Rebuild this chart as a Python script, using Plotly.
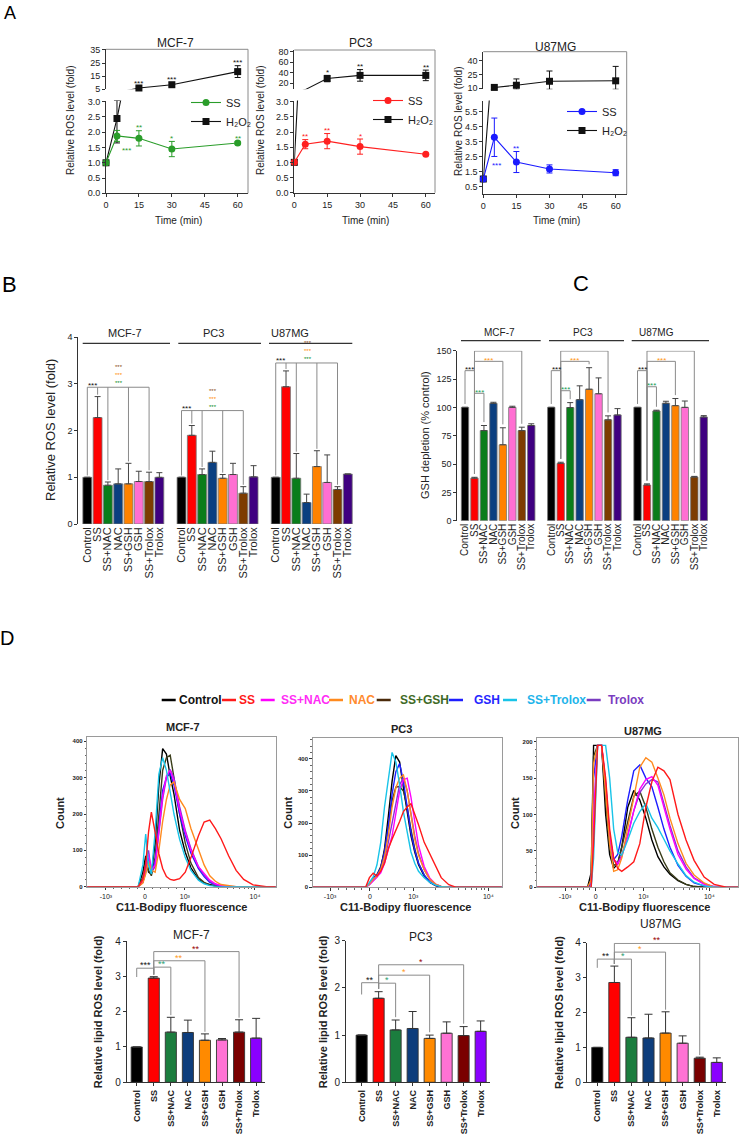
import math
import plotly.graph_objects as go

# ============================ DATA ============================
TREATMENTS = ["Control", "SS", "SS+NAC", "NAC", "SS+GSH", "GSH", "SS+Trolox", "Trolox"]
CELL_LINES = ["MCF-7", "PC3", "U87MG"]

# ---- Panel A: ROS level time course (fold) ----
A_TIME = [0, 5, 15, 30, 60]
A_MCF7_SS = [1.0, 1.88, 1.80, 1.45, 1.65]
A_MCF7_SS_ERR = [0, 0.18, 0.25, 0.25, 0.05]
A_MCF7_H2O2 = [1.0, 2.45, 6.0, 8.5, 18.5]
A_MCF7_H2O2_ERR = [0, 0.8, 1.0, 1.5, 4.5]
A_PC3_SS = [1.0, 1.60, 1.70, 1.52, 1.27]
A_PC3_SS_ERR = [0, 0.15, 0.25, 0.25, 0.03]
A_PC3_H2O2 = [1.0, 8.0, 29.0, 35.0, 35.0]
A_PC3_H2O2_ERR = [0, 0, 6.0, 11.0, 10.0]
A_U87_SS = [1.0, 3.78, 2.13, 1.67, 1.42]
A_U87_SS_ERR = [0, 1.28, 0.70, 0.27, 0.20]
A_U87_H2O2 = [1.0, 10.7, 13.1, 17.5, 18.0]
A_U87_H2O2_ERR = [0, 0, 7.0, 11.4, 16.0]
A_MCF7_SIG_SS = ["", "***", "**", "*", "**"]
A_MCF7_SIG_H2O2 = ["", "", "***", "***", "***"]
A_PC3_SIG_SS = ["", "**", "**", "*", ""]
A_PC3_SIG_H2O2 = ["", "", "*", "**", "**"]
A_U87_SIG_SS = ["", "***", "**", "", ""]
A_U87_SIG_H2O2 = ["", "", "", "", ""]

# ---- Panel B: relative ROS level (fold) ----
B_MCF7 = [1.0, 2.28, 0.83, 0.86, 0.86, 0.91, 0.91, 1.0]
B_MCF7_ERR = [0, 0.45, 0.07, 0.32, 0.44, 0.22, 0.20, 0.10]
B_PC3 = [1.0, 1.90, 1.06, 1.32, 0.98, 1.06, 0.66, 1.01]
B_PC3_ERR = [0, 0.21, 0.12, 0.24, 0.08, 0.24, 0.14, 0.24]
B_U87 = [1.0, 2.94, 0.98, 0.46, 1.23, 0.89, 0.74, 1.07]
B_U87_ERR = [0, 0.34, 0.53, 0.18, 0.34, 0.59, 0.06, 0.0]
B_SIG = ["***", "***", "***"]

# ---- Panel C: GSH depletion (% control) ----
C_MCF7 = [100, 37.5, 79.5, 103.5, 67.0, 100.0, 79.5, 84.0]
C_MCF7_ERR = [0, 0.8, 4.5, 1.0, 15.0, 1.0, 3.0, 1.5]
C_PC3 = [100, 50.6, 99.8, 106.8, 116.0, 112.0, 89.0, 93.3]
C_PC3_ERR = [0, 1.0, 4.4, 12.2, 19.0, 14.0, 3.5, 5.6]
C_U87 = [100, 31.5, 96.8, 103.6, 101.5, 100.0, 38.5, 91.5]
C_U87_ERR = [0, 1.0, 0.7, 1.8, 6.3, 5.6, 0.6, 1.2]
C_SIG = ["***", "***", "***"]

# ---- Panel D: flow histograms (display channel 0-1000 vs count) ----
HIST_X_MCF7 = [0, 270, 295, 310, 325, 340, 360, 380, 400, 420, 440, 460, 490, 520, 550, 590,
               620, 650, 680, 710, 750, 790, 830, 880, 950, 1000]
HIST_MCF7 = {
    "Control":   [0, 0, 40, 85, 40, 35, 120, 280, 380, 365, 305, 255, 155, 95, 52, 20, 10, 5, 2, 1, 0, 0, 0, 0, 0, 0],
    "SS":        [0, 0, 20, 60, 150, 205, 150, 90, 50, 28, 20, 18, 22, 40, 80, 140, 178, 183, 160, 132, 85, 45, 20, 5, 0, 0],
    "SS+NAC":    [0, 0, 15, 60, 90, 45, 60, 150, 250, 305, 320, 290, 210, 150, 100, 55, 35, 18, 8, 3, 0, 0, 0, 0, 0, 0],
    "NAC":       [0, 0, 10, 35, 70, 45, 40, 100, 180, 240, 280, 288, 240, 215, 160, 100, 60, 30, 15, 6, 2, 0, 0, 0, 0, 0],
    "SS+GSH":    [0, 0, 25, 70, 45, 30, 80, 200, 320, 355, 362, 300, 200, 120, 65, 25, 12, 5, 2, 0, 0, 0, 0, 0, 0, 0],
    "GSH":       [0, 0, 12, 40, 80, 40, 70, 170, 265, 300, 312, 280, 200, 140, 92, 50, 28, 12, 5, 1, 0, 0, 0, 0, 0, 0],
    "SS+Trolox": [0, 0, 60, 145, 60, 35, 150, 310, 355, 320, 260, 200, 130, 80, 45, 18, 8, 3, 1, 0, 0, 0, 0, 0, 0, 0],
    "Trolox":    [0, 0, 12, 50, 100, 40, 55, 140, 240, 300, 322, 300, 220, 155, 105, 55, 32, 15, 6, 2, 0, 0, 0, 0, 0, 0],
}
HIST_X_PC3 = [0, 280, 300, 320, 340, 360, 380, 400, 420, 440, 460, 480, 500, 520, 540, 560, 590,
              620, 650, 680, 720, 760, 1000]
HIST_PC3 = {
    "Control":   [0, 0, 12, 25, 35, 60, 120, 220, 330, 410, 390, 310, 230, 160, 110, 70, 35, 15, 5, 1, 0, 0, 0],
    "SS":        [0, 0, 30, 44, 35, 50, 75, 120, 150, 175, 205, 236, 250, 260, 230, 195, 140, 105, 65, 30, 8, 0, 0],
    "SS+NAC":    [0, 0, 8, 20, 30, 45, 75, 120, 160, 230, 300, 335, 340, 280, 200, 130, 65, 28, 10, 3, 0, 0, 0],
    "NAC":       [0, 0, 10, 25, 35, 55, 95, 160, 250, 310, 340, 350, 300, 220, 150, 100, 55, 25, 10, 3, 0, 0, 0],
    "SS+GSH":    [0, 0, 10, 30, 40, 65, 110, 190, 270, 312, 314, 300, 250, 180, 120, 75, 38, 16, 6, 2, 0, 0, 0],
    "GSH":       [0, 0, 10, 28, 38, 60, 110, 190, 290, 360, 385, 330, 250, 170, 115, 75, 38, 16, 6, 2, 0, 0, 0],
    "SS+Trolox": [0, 0, 15, 32, 70, 140, 250, 340, 420, 390, 320, 235, 170, 110, 75, 50, 30, 15, 7, 2, 0, 0, 0],
    "Trolox":    [0, 0, 9, 22, 32, 50, 85, 140, 200, 260, 320, 340, 300, 230, 160, 105, 55, 24, 9, 2, 0, 0, 0],
}
HIST_X_U87 = [0, 250, 268, 280, 300, 320, 340, 360, 380, 400, 420, 450, 480, 510, 540, 570, 600,
              630, 660, 700, 740, 780, 830, 880, 940, 1000]
HIST_U87 = {
    "Control":   [0, 0, 20, 195, 195, 195, 100, 45, 26, 32, 55, 110, 133, 120, 95, 65, 42, 28, 18, 9, 4, 1, 0, 0, 0, 0],
    "SS":        [0, 0, 0, 60, 195, 195, 150, 80, 40, 26, 22, 28, 35, 60, 110, 145, 165, 160, 148, 100, 65, 37, 14, 4, 0, 0],
    "SS+NAC":    [0, 0, 0, 100, 195, 195, 140, 70, 38, 32, 42, 70, 105, 135, 148, 152, 140, 110, 80, 45, 25, 12, 4, 1, 0, 0],
    "NAC":       [0, 0, 10, 170, 195, 195, 130, 60, 22, 24, 40, 80, 125, 165, 178, 172, 150, 127, 95, 60, 33, 17, 6, 0, 0, 0],
    "SS+GSH":    [0, 0, 10, 180, 195, 195, 120, 55, 30, 33, 55, 92, 125, 132, 110, 80, 55, 35, 20, 10, 4, 1, 0, 0, 0, 0],
    "GSH":       [0, 0, 5, 150, 195, 195, 140, 70, 38, 45, 70, 120, 160, 168, 150, 138, 110, 80, 55, 30, 15, 6, 2, 0, 0, 0],
    "SS+Trolox": [0, 0, 0, 40, 195, 195, 195, 150, 80, 48, 44, 65, 88, 104, 115, 95, 82, 66, 50, 32, 16, 7, 2, 0, 0, 0],
    "Trolox":    [0, 0, 0, 90, 195, 195, 145, 72, 38, 33, 44, 72, 105, 130, 142, 148, 145, 115, 85, 50, 28, 13, 5, 1, 0, 0],
}
HIST_TICKTEXT = ["-10³", "0", "10³", "10⁴"]

# ---- Panel D: relative lipid ROS level (fold) ----
D_MCF7 = [1.0, 2.95, 1.42, 1.41, 1.19, 1.20, 1.42, 1.25]
D_MCF7_ERR = [0, 0.04, 0.42, 0.35, 0.18, 0.04, 0.35, 0.56]
D_PC3 = [1.0, 1.78, 1.11, 1.14, 0.93, 1.04, 0.99, 1.08]
D_PC3_ERR = [0, 0.14, 0.21, 0.36, 0.07, 0.24, 0.19, 0.22]
D_U87 = [1.0, 2.86, 1.29, 1.27, 1.41, 1.12, 0.69, 0.57]
D_U87_ERR = [0, 0.47, 0.56, 0.68, 0.61, 0.21, 0.03, 0.13]
D_SIG_MCF7 = ["***", "**", "**", "**"]
D_SIG_PC3 = ["**", "*", "*", "*"]
D_SIG_U87 = ["**", "*", "*", "**"]

# ============================ STYLE ============================
BC_COLORS = ["#000000", "#ff0000", "#0a7d1a", "#0b3f80", "#ff8200", "#ff6fd2", "#7d3c00", "#3f0080"]
D_COLORS = ["#000000", "#ff0000", "#1b7d3e", "#0d3d7c", "#ff8a00", "#ff72d4", "#7a0000", "#8a00ff"]
HIST_COLORS = {"Control": "#000000", "SS": "#ff1a1a", "SS+NAC": "#ff00ff", "NAC": "#ff8a1e",
               "SS+GSH": "#3a3d1a", "GSH": "#1e1eff", "SS+Trolox": "#18c4e8", "Trolox": "#8b2fd6"}
LEGEND_TEXT_COLORS = {"Control": "#111111", "SS": "#ff1a1a", "SS+NAC": "#ff2df5", "NAC": "#ff8a2e",
                      "SS+GSH": "#3e6a26", "GSH": "#2626ff", "SS+Trolox": "#1eb4ea", "Trolox": "#7a3cc0"}
LEGEND_LINE_COLORS = {"Control": "#000000", "SS": "#ff1a1a", "SS+NAC": "#ff00ff", "NAC": "#ff8a1e",
                      "SS+GSH": "#4a2a0a", "GSH": "#1e1eff", "SS+Trolox": "#18c4e8", "Trolox": "#7a3cc0"}
HIST_ORDER = ["Control", "SS+GSH", "GSH", "Trolox", "SS+NAC", "NAC", "SS+Trolox", "SS"]

W, H = 742, 1134
FONT = "Arial, Liberation Sans, sans-serif"
fig = go.Figure()
LAYOUT = {}
ANN = []
SHP = []


def PX(v):
    return v / W


def PY(v):
    return 1 - v / H


def ax_key(kind, n):
    return f"{kind}axis" + ("" if n == 1 else str(n))


def ax_ref(kind, n):
    return kind + ("" if n == 1 else str(n))


def tf(size, bold=False, color="#222222"):
    return dict(family=FONT, size=size, color=color, weight=("bold" if bold else "normal"))


BASE_AXIS = dict(showgrid=False, zeroline=False, showline=True, linecolor="#333333", linewidth=1,
                 ticks="outside", ticklen=3, tickwidth=1, tickcolor="#333333",
                 tickfont=tf(9), fixedrange=True)


def axis(kind, n, **kw):
    d = dict(BASE_AXIS)
    d.update(kw)
    LAYOUT[ax_key(kind, n)] = d


def text(x, y, s, size=10, color="#222222", angle=0, xanchor="center", yanchor="middle",
         xref="paper", yref="paper", xshift=0, yshift=0, bold=False):
    ANN.append(dict(x=x, y=y, text=s, showarrow=False, textangle=angle, xanchor=xanchor,
                    yanchor=yanchor, xref=xref, yref=yref, xshift=xshift, yshift=yshift,
                    font=tf(size, bold, color)))


def ptext(xp, yp, s, **kw):
    text(PX(xp), PY(yp), s, **kw)


def line(x0, y0, x1, y1, color="#888888", width=1, xref="paper", yref="paper"):
    SHP.append(dict(type="line", x0=x0, y0=y0, x1=x1, y1=y1, xref=xref, yref=yref,
                    line=dict(color=color, width=width)))


def pline(x0, y0, x1, y1, **kw):
    line(PX(x0), PY(y0), PX(x1), PY(y1), **kw)


def star(x, y, s, color, xref, yref, yshift=0, size=8, xshift=0):
    # asterisks sit high in the text box; shift down so the glyph centre lands on y
    text(x, y, s, size=size, color=color, xref=xref, yref=yref, yshift=yshift - 2, xshift=xshift)


# panel letters
ptext(9.5, 13.5, "A", size=18, color="#000000")
ptext(9.5, 284, "B", size=22, color="#000000")
ptext(580.5, 283.5, "C", size=22, color="#000000")
ptext(7.5, 638, "D", size=20, color="#000000")

# ============================ PANEL A ============================
A_SERIES = [
    (A_MCF7_SS, A_MCF7_SS_ERR, A_MCF7_H2O2, A_MCF7_H2O2_ERR, A_MCF7_SIG_SS, A_MCF7_SIG_H2O2),
    (A_PC3_SS, A_PC3_SS_ERR, A_PC3_H2O2, A_PC3_H2O2_ERR, A_PC3_SIG_SS, A_PC3_SIG_H2O2),
    (A_U87_SS, A_U87_SS_ERR, A_U87_H2O2, A_U87_H2O2_ERR, A_U87_SIG_SS, A_U87_SIG_H2O2),
]
A_STYLE = [
    dict(xpx=(106, 248), xr=[0, 64.7], top=(49.3, 89.3), top_r=[5, 35.5], top_t=[5, 15, 25, 35],
         bot=(100.5, 193.3), bot_r=[0, 3.04], bot_t=[0, 0.5, 1.0, 1.5, 2.0, 2.5, 3.0],
         color="#2a9d2a", title=(175, 43), ylab_x=71, time_x=178, legend=(186, 88),
         below=[1], below_xshift=10),
    dict(xpx=(294.3, 435), xr=[0, 64.2], top=(50, 89.3), top_r=[8.6, 83.2], top_t=[20, 40, 60, 80],
         bot=(100.5, 192.7), bot_r=[0, 3.04], bot_t=[0, 0.5, 1.0, 1.5, 2.0, 2.5, 3.0],
         color="#ff2020", title=(360.7, 43.3), ylab_x=261, time_x=365, legend=(368, 86),
         below=[], below_xshift=0),
    dict(xpx=(483.3, 626.7), xr=[0, 65], top=(51.7, 89.3), top_r=[8.6, 50.3], top_t=[10, 25, 40],
         bot=(100.5, 194), bot_r=[0, 6.23], bot_t=[0.5, 1.5, 2.5, 3.5, 4.5, 5.5],
         color="#1a1aff", title=(555, 46.7), ylab_x=459, time_x=556, legend=(562, 97),
         below=[1], below_xshift=2),
]
LEG_NAMES = ["legend", "legend2", "legend3"]

for i, (st, (ss, sse, hh, hhe, sig_ss, sig_h)) in enumerate(zip(A_STYLE, A_SERIES)):
    xn, yt, yb = i + 1, 2 * i + 1, 2 * i + 2
    xr_, ytr, ybr = ax_ref("x", xn), ax_ref("y", yt), ax_ref("y", yb)
    axis("x", xn, domain=[PX(st["xpx"][0]), PX(st["xpx"][1])], range=st["xr"], anchor=ybr,
         tickvals=[0, 15, 30, 45, 60])
    axis("y", yt, domain=[PY(st["top"][1]), PY(st["top"][0])], range=st["top_r"], anchor=xr_,
         tickvals=st["top_t"])
    axis("y", yb, domain=[PY(st["bot"][1]), PY(st["bot"][0])], range=st["bot_r"], anchor=xr_,
         tickvals=st["bot_t"], tickformat=".1f")
    # frame (top + right)
    pline(st["xpx"][0], st["top"][0], st["xpx"][1], st["top"][0], color="#8a8a8a")
    pline(st["xpx"][1], st["top"][0], st["xpx"][1], st["bot"][1], color="#8a8a8a")

    series = [(hh, hhe, "#111111", "square", "H₂O₂", sig_h),
              (ss, sse, st["color"], "circle", "SS", sig_ss)]
    for yn_ref, rng in [(ytr, st["top_r"]), (ybr, st["bot_r"])]:
        lo, hi = rng
        for vals, errs, col, sym, nm, sig in series:
            fig.add_trace(go.Scatter(x=A_TIME, y=vals, mode="lines", xaxis=xr_, yaxis=yn_ref,
                                     line=dict(color=col, width=1.1), showlegend=False,
                                     hoverinfo="skip"))
            inr = [lo <= v <= hi for v in vals]
            yv = [v if ok else None for v, ok in zip(vals, inr)]
            ep = [(min(v + e, hi) - v) if ok else 0 for v, e, ok in zip(vals, errs, inr)]
            em = [(v - max(v - e, lo)) if ok else 0 for v, e, ok in zip(vals, errs, inr)]
            fig.add_trace(go.Scatter(x=A_TIME, y=yv, mode="markers", xaxis=xr_, yaxis=yn_ref,
                                     cliponaxis=False, showlegend=False, hoverinfo="skip",
                                     marker=dict(color=col, size=7, symbol=sym),
                                     error_y=dict(type="data", symmetric=False, array=ep,
                                                  arrayminus=em, color=col, thickness=1, width=3)))
            for j, s in enumerate(sig):
                if not s or not inr[j]:
                    continue
                if nm == "SS" and j in st["below"]:
                    star(A_TIME[j], max(vals[j] - errs[j], lo), s, col, xr_, yn_ref, yshift=-7,
                         xshift=st["below_xshift"])
                else:
                    star(A_TIME[j], min(vals[j] + errs[j], hi), s, col, xr_, yn_ref, yshift=5)
    # legend entries
    for vals, errs, col, sym, nm, sig in reversed(series):
        fig.add_trace(go.Scatter(x=[None], y=[None], mode="lines+markers", name=nm,
                                 xaxis=xr_, yaxis=ybr, legend=LEG_NAMES[i],
                                 line=dict(color=col, width=1.1),
                                 marker=dict(color=col, size=7, symbol=sym)))
    LAYOUT[LEG_NAMES[i]] = dict(x=PX(st["legend"][0]), y=PY(st["legend"][1]), xanchor="left",
                                yanchor="top", bgcolor="rgba(0,0,0,0)", borderwidth=0,
                                font=tf(11), itemwidth=30)
    ptext(st["title"][0], st["title"][1], CELL_LINES[i], size=12)
    ptext(st["ylab_x"], 121, "Relative ROS level (fold)", size=10, angle=-90)
    ptext(st["time_x"], 221, "Time (min)", size=10)

# ============================ PANEL B ============================
B_STEP = 9.15
B_X, B_Y = 4, 7
bx, by = ax_ref("x", B_X), ax_ref("y", B_Y)
B_DATA = [(B_MCF7, B_MCF7_ERR), (B_PC3, B_PC3_ERR), (B_U87, B_U87_ERR)]
B_POS = [[g * B_STEP + i for i in range(8)] for g in range(3)]
for g, (vals, errs) in enumerate(B_DATA):
    fig.add_trace(go.Bar(x=B_POS[g], y=vals, width=0.86, xaxis=bx, yaxis=by, showlegend=False,
                         marker=dict(color=BC_COLORS, line=dict(color="#777777", width=0.8)),
                         error_y=dict(type="data", symmetric=False, array=errs,
                                      arrayminus=[0] * 8, color="#444444", thickness=1, width=3),
                         hoverinfo="skip"))
axis("x", B_X, domain=[PX(78.3), PX(355)], range=[-0.874, 26.0], anchor=by,
     tickvals=[p for row in B_POS for p in row], ticktext=TREATMENTS * 3, tickangle=-90,
     tickfont=tf(11), showline=False, ticks="")
axis("y", B_Y, domain=[PY(524), PY(337.3)], range=[0, 4], anchor=bx, tickvals=[0, 1, 2, 3, 4],
     tickfont=tf(9))
ptext(50, 430, "Relative ROS level (fold)", size=13, angle=-90)
B_HEAD = [(82.7, 170, 124.7), (178.3, 261, 213), (269, 352.3, 290)]
for g, (x0, x1, xc) in enumerate(B_HEAD):
    pline(x0, 343.3, x1, 343.3, color="#333333", width=1.2)
    ptext(xc, 333.3, CELL_LINES[g], size=11)
B_BR_H = [2.93, 2.43, 3.45]
B_STACK = ("<span style='color:#8a4a10'>***</span><br>"
           "<span style='color:#ff8a00'>***</span><br>"
           "<span style='color:#0a8a1a'>***</span>")
for g, (vals, errs) in enumerate(B_DATA):
    P = B_POS[g]
    h = B_BR_H[g]
    top = [v + e + 0.04 for v, e in zip(vals, errs)]
    kw = dict(xref=bx, yref=by, color="#8a8a8a")
    line(P[0], top[0], P[0], h, **kw)
    line(P[0], h, P[6], h, **kw)
    line(P[1], top[1], P[1], h, **kw)
    for k in (2, 4, 6):
        line(P[k], top[k], P[k], h, **kw)
    star((P[0] + P[1]) / 2, h + 0.09, B_SIG[g], "#111111", bx, by)
    text(P[1] + 2.1, h, B_STACK, size=6, xref=bx, yref=by, yanchor="bottom", yshift=-1)

# ============================ PANEL C ============================
C_STEP = 9.115
C_X, C_Y = 5, 8
cx, cy = ax_ref("x", C_X), ax_ref("y", C_Y)
C_DATA = [(C_MCF7, C_MCF7_ERR), (C_PC3, C_PC3_ERR), (C_U87, C_U87_ERR)]
C_POS = [[g * C_STEP + i for i in range(8)] for g in range(3)]
for g, (vals, errs) in enumerate(C_DATA):
    fig.add_trace(go.Bar(x=C_POS[g], y=vals, width=0.78, xaxis=cx, yaxis=cy, showlegend=False,
                         marker=dict(color=BC_COLORS, line=dict(color="#777777", width=0.8)),
                         error_y=dict(type="data", symmetric=False, array=errs,
                                      arrayminus=[0] * 8, color="#444444", thickness=1, width=3),
                         hoverinfo="skip"))
axis("x", C_X, domain=[PX(457.3), PX(712)], range=[-0.815, 26.1], anchor=cy,
     tickvals=[p for row in C_POS for p in row], ticktext=TREATMENTS * 3, tickangle=-90,
     tickfont=tf(10), showline=False, ticks="")
axis("y", C_Y, domain=[PY(520.7), PY(350.7)], range=[0, 150], anchor=cx,
     tickvals=[0, 25, 50, 75, 100, 125, 150], tickfont=tf(9))
ptext(425, 435, "GSH depletion (% control)", size=11, angle=-90)
C_HEAD = [(461, 540.7, 499), (549, 624, 583), (631.7, 709, 656.5)]
for g, (x0, x1, xc) in enumerate(C_HEAD):
    pline(x0, 340.7, x1, 340.7, color="#333333", width=1.2)
    ptext(xc, 332.7, CELL_LINES[g], size=10)
C_GREEN_H = [112.4, 114.7, 118.2]
for g, (vals, errs) in enumerate(C_DATA):
    P = C_POS[g]
    top = [v + e + 3 for v, e in zip(vals, errs)]
    brs = [(0, 1, 132.4, C_SIG[g], "#111111"), (1, 2, C_GREEN_H[g], "***", "#21a05a"),
           (1, 4, 140.6, "***", "#ff9a1a"), (1, 6, 149.7, "***", "#a00000")]
    for a, b, h, s, col in brs:
        kw = dict(xref=cx, yref=cy, color="#8a8a8a")
        line(P[a], top[a], P[a], h, **kw)
        line(P[a], h, P[b], h, **kw)
        line(P[b], top[b], P[b], h, **kw)
        star((P[a] + P[b]) / 2, h + 2.5, s, col, cx, cy)

# ============================ PANEL D legend ============================
LEG_D_X = [161.7, 222, 260.7, 329, 376.7, 449, 503, 586.7]
LEG_D_TX = [176.7, 237, 279, 346.7, 397.7, 471.7, 525, 606]
for k, t in enumerate(TREATMENTS):
    pline(LEG_D_X[k], 700, LEG_D_X[k] + 14, 700, color=LEGEND_LINE_COLORS[t], width=2.5)
    ptext(LEG_D_TX[k], 700, t, size=12, color=LEGEND_TEXT_COLORS[t], xanchor="left", bold=True)

# ============================ PANEL D histograms ============================
HIST_SPEC = [
    dict(xs=HIST_X_MCF7, data=HIST_MCF7, xpx=(87.3, 275.7), ypx=(737.3, 886.7), yr=[0, 411],
         yt=[0, 100, 200, 300, 400], xt=[99, 306, 518, 890], title=(183.3, 726.7),
         count_x=60, fl_x=181, minor=20),
    dict(xs=HIST_X_PC3, data=HIST_PC3, xpx=(312.7, 501.7), ypx=(738.3, 887.3), yr=[0, 464],
         yt=[0, 100, 200, 300, 400], xt=[92, 303, 532, 929], title=(401.7, 729.3),
         count_x=287.7, fl_x=405, minor=20),
    dict(xs=HIST_X_U87, data=HIST_U87, xpx=(537.3, 738.3), ypx=(738.3, 887.3), yr=[0, 204.7],
         yt=[0, 50, 100, 150, 200], xt=[138, 291, 528, 856], title=(643.3, 730.7),
         count_x=515, fl_x=644.5, minor=10),
]
for k, sp in enumerate(HIST_SPEC):
    xn, yn = 6 + k, 9 + k
    hx, hy = ax_ref("x", xn), ax_ref("y", yn)
    for t in HIST_ORDER:
        fig.add_trace(go.Scatter(x=sp["xs"], y=sp["data"][t], mode="lines", xaxis=hx, yaxis=hy,
                                 line=dict(color=HIST_COLORS[t], width=1.4), showlegend=False,
                                 hoverinfo="skip"))
    # decade minor ticks of the log part of the axis
    m3, z0, p3, p4 = sp["xt"][0], sp["xt"][1], sp["xt"][2], sp["xt"][3]
    dec = p4 - p3
    minors = [p3 + dec * math.log10(f) for f in range(2, 10)]
    minors += [p4 + dec * math.log10(f) for f in range(2, 10) if p4 + dec * math.log10(f) < 1000]
    minors += [z0 + (p3 - z0) * f / 5 for f in range(1, 5)] + [m3 + (z0 - m3) * f / 5 for f in range(1, 5)]
    axis("x", xn, domain=[PX(sp["xpx"][0]), PX(sp["xpx"][1])], range=[0, 1000], anchor=hy,
         mirror=True, linecolor="#9a9a9a", tickvals=sp["xt"], ticktext=HIST_TICKTEXT, ticklen=2.5,
         tickfont=tf(7),
         minor=dict(ticks="outside", ticklen=1.5, tickvals=minors, tickcolor="#666666"))
    axis("y", yn, domain=[PY(sp["ypx"][1]), PY(sp["ypx"][0])], range=sp["yr"], anchor=hx,
         mirror=True, linecolor="#9a9a9a", tickvals=sp["yt"], ticklen=2.5,
         tickfont=tf(6, True),
         minor=dict(ticks="outside", ticklen=1.5, dtick=sp["minor"], tickcolor="#666666"))
    ptext(sp["title"][0], sp["title"][1], CELL_LINES[k], size=11, bold=True)
    ptext(sp["count_x"], 813, "Count", size=11, angle=-90, bold=True)
    ptext(sp["fl_x"], 906.5, "C11-Bodipy fluorescence", size=11, bold=True)

# ============================ PANEL D bars ============================
D_SPEC = [
    dict(vals=D_MCF7, errs=D_MCF7_ERR, sig=D_SIG_MCF7, xpx=(126.7, 265), xr=[-0.587, 7.52],
         ypx=(941, 1082.3), yr=[0, 4], yt=[0, 1, 2, 3, 4], title=(191, 935), ylab=(98.3, 1012),
         br=[3.23, 3.26, 3.44, 3.70]),
    dict(vals=D_PC3, errs=D_PC3_ERR, sig=D_SIG_PC3, xpx=(346, 490), xr=[-0.92, 7.55],
         ypx=(940.7, 1082.3), yr=[0, 3], yt=[0, 1, 2, 3], title=(420.7, 936.7), ylab=(323.3, 1012),
         br=[2.11, 2.10, 2.27, 2.49]),
    dict(vals=D_U87, errs=D_U87_ERR, sig=D_SIG_U87, xpx=(586.7, 726), xr=[-0.62, 7.54],
         ypx=(942.7, 1082.3), yr=[0, 4], yt=[0, 1, 2, 3, 4], title=(660, 923.5), ylab=(559, 1013),
         br=[3.53, 3.53, 3.73, 3.98]),
]
D_STAR_COLORS = ["#111111", "#2aa070", "#ff9a1a", "#9a0000"]
for k, sp in enumerate(D_SPEC):
    xn, yn = 9 + k, 12 + k
    dx, dy = ax_ref("x", xn), ax_ref("y", yn)
    xs = list(range(8))
    fig.add_trace(go.Bar(x=xs, y=sp["vals"], width=0.65, xaxis=dx, yaxis=dy, showlegend=False,
                         marker=dict(color=D_COLORS, line=dict(color="#333333", width=0.9)),
                         error_y=dict(type="data", symmetric=False, array=sp["errs"],
                                      arrayminus=[0] * 8, color="#333333", thickness=1, width=4),
                         hoverinfo="skip"))
    axis("x", xn, domain=[PX(sp["xpx"][0]), PX(sp["xpx"][1])], range=sp["xr"], anchor=dy,
         tickvals=xs, ticktext=TREATMENTS, tickangle=-90, tickfont=tf(9, True))
    axis("y", yn, domain=[PY(sp["ypx"][1]), PY(sp["ypx"][0])], range=sp["yr"], anchor=dx,
         tickvals=sp["yt"], tickfont=tf(10))
    ptext(sp["title"][0], sp["title"][1], CELL_LINES[k], size=12)
    ptext(sp["ylab"][0], sp["ylab"][1], "Relative lipid ROS level (fold)", size=11, angle=-90,
          bold=True)
    top = [v + e + 0.06 for v, e in zip(sp["vals"], sp["errs"])]
    pairs = [(0, 1), (1, 2), (1, 4), (1, 6)]
    for (a, b), h, s, col in zip(pairs, sp["br"], sp["sig"], D_STAR_COLORS):
        kw = dict(xref=dx, yref=dy, color="#8a8a8a")
        y_a = h - 0.25 if a == 0 else top[a]
        line(a, y_a, a, h, **kw)
        line(a, h, b, h, **kw)
        line(b, top[b], b, h, **kw)
        star((a + b) / 2, h, s, col, dx, dy, yshift=5, size=9)

fig.update_layout(width=W, height=H, margin=dict(l=0, r=0, t=0, b=0), template="none",
                  paper_bgcolor="white", plot_bgcolor="rgba(0,0,0,0)", barmode="overlay",
                  font=dict(family=FONT, color="#222222"), annotations=ANN, shapes=SHP,
                  showlegend=True, **LAYOUT)
fig.write_html("out.html", include_plotlyjs=True, full_html=True,
               post_script="document.body.style.margin='0px';",
               config={"displayModeBar": False})
